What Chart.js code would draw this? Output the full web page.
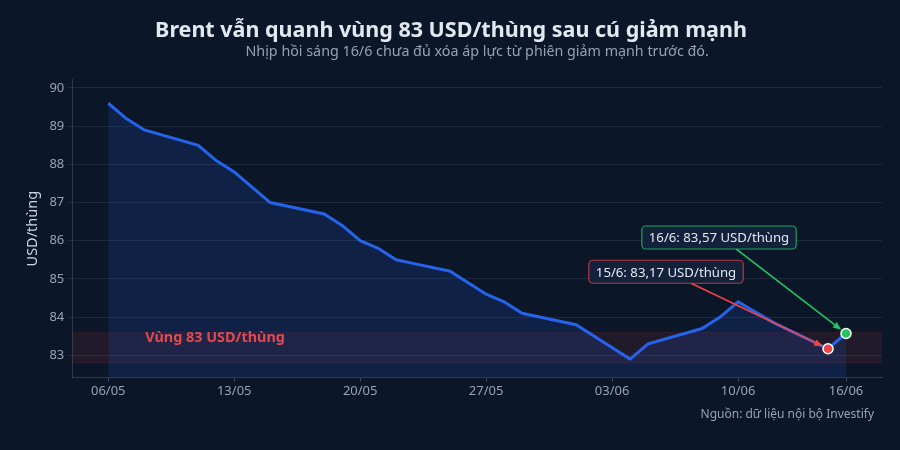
<!DOCTYPE html>
<html>
<head>
<meta charset="utf-8">
<script src="https://cdn.jsdelivr.net/npm/chart.js@4.4.1/dist/chart.umd.min.js"></script>
<style>
  html, body { margin: 0; padding: 0; background: #0b1628; }
  #wrap { width: 900px; height: 450px; }
</style>
</head>
<body>
<div id="wrap"><canvas id="brent"></canvas></div>
<script>
// days counted from 06/05
var days   = [0, 1, 2, 5, 6, 7, 9, 12, 13, 14, 15, 16, 17, 19, 20, 21, 22, 23, 26, 29, 30, 33, 34, 35, 37, 40, 41];
var prices = [89.6, 89.2, 88.9, 88.5, 88.1, 87.8, 87.0, 86.7, 86.4, 86.0, 85.8, 85.5, 85.4, 85.2, 84.9, 84.6, 84.4, 84.1, 83.8, 82.9, 83.3, 83.7, 84.0, 84.4, 83.85, 83.17, 83.57];

var xTickDays   = [0, 7, 14, 21, 28, 35, 41];
var xTickLabels = ['06/05', '13/05', '20/05', '27/05', '03/06', '10/06', '16/06'];
var yTicks      = [83, 84, 85, 86, 87, 88, 89, 90];

var zoneRange = [82.8, 83.6];
var zoneText  = 'Vùng 83 USD/thùng';

var calloutDays   = [40, 41];
var calloutLabels = ['15/6', '16/6'];

var RED = '#ef4444', GREEN = '#22c55e', BLUE = '#2563eb';

// callout looks: box centre offset and arrow start offset from the point (px)
var callouts = [
  { color: RED,   border: 'rgba(239,68,68,0.75)', dx: -162, dy: -77, ax: -137 },
  { color: GREEN, border: 'rgba(34,197,94,0.8)',  dx: -127, dy: -96, ax: -110 }
];

var points = days.map(function (d, i) { return { x: d, y: prices[i] }; });
var radii = days.map(function (d) { return calloutDays.indexOf(d) >= 0 ? 5 : 0; });
var dotColors = days.map(function (d) {
  var k = calloutDays.indexOf(d);
  return k >= 0 ? callouts[k].color : BLUE;
});

function fmt(v) { return v.toFixed(2).replace('.', ','); }

var extras = {
  id: 'extras',
  beforeDatasetsDraw: function (chart) {
    var ctx = chart.ctx, a = chart.chartArea, y = chart.scales.y;
    var top = y.getPixelForValue(zoneRange[1]), bot = y.getPixelForValue(zoneRange[0]);
    ctx.save();
    ctx.fillStyle = 'rgba(239,68,68,0.09)';
    ctx.fillRect(a.left, top, a.right - a.left, bot - top);
    ctx.strokeStyle = 'rgba(239,68,68,0.12)';
    ctx.lineWidth = 1;
    ctx.beginPath();
    ctx.moveTo(a.left, top); ctx.lineTo(a.right, top);
    ctx.moveTo(a.left, bot); ctx.lineTo(a.right, bot);
    ctx.stroke();
    ctx.restore();
  },
  afterDatasetsDraw: function (chart) {
    var ctx = chart.ctx, x = chart.scales.x, y = chart.scales.y;
    var top = y.getPixelForValue(zoneRange[1]);
    ctx.save();
    // zone label
    ctx.font = 'bold 14.4px "Noto Sans"';
    ctx.fillStyle = '#e5484d';
    ctx.textAlign = 'left';
    ctx.textBaseline = 'middle';
    ctx.fillText(zoneText, x.getPixelForValue(2) + 1, top + 6);

    // callouts
    ctx.font = '13.2px "Noto Sans"';
    calloutDays.forEach(function (d, k) {
      var c = callouts[k];
      var v = prices[days.indexOf(d)];
      var px = x.getPixelForValue(d), py = y.getPixelForValue(v);
      var txt = calloutLabels[k] + ': ' + fmt(v) + ' USD/thùng';
      var w = ctx.measureText(txt).width + 14, h = 23;
      var cx = px + c.dx, cy = py + c.dy;
      var bx = cx - w / 2, by = cy - h / 2;

      // arrow
      var sx = px + c.ax, sy = by + h;
      var ang = Math.atan2(py - sy, px - sx);
      var ex = px - Math.cos(ang) * 6, ey = py - Math.sin(ang) * 6;
      ctx.strokeStyle = c.color;
      ctx.fillStyle = c.color;
      ctx.lineWidth = 1.6;
      ctx.beginPath();
      ctx.moveTo(sx, sy);
      ctx.lineTo(ex - Math.cos(ang) * 6, ey - Math.sin(ang) * 6);
      ctx.stroke();
      ctx.beginPath();
      ctx.moveTo(ex, ey);
      ctx.lineTo(ex - Math.cos(ang - 0.4) * 9, ey - Math.sin(ang - 0.4) * 9);
      ctx.lineTo(ex - Math.cos(ang + 0.4) * 9, ey - Math.sin(ang + 0.4) * 9);
      ctx.closePath();
      ctx.fill();

      // box
      ctx.beginPath();
      ctx.roundRect(bx, by, w, h, 4);
      ctx.fillStyle = '#13213a';
      ctx.fill();
      ctx.strokeStyle = c.border;
      ctx.lineWidth = 1.2;
      ctx.stroke();
      ctx.fillStyle = '#e2e8f0';
      ctx.textAlign = 'center';
      ctx.textBaseline = 'middle';
      ctx.fillText(txt, cx, cy + 1);
    });
    ctx.restore();
  },
  afterDraw: function (chart) {
    var ctx = chart.ctx;
    ctx.save();
    ctx.font = '12px "Noto Sans"';
    ctx.fillStyle = '#94a3b8';
    ctx.textAlign = 'right';
    ctx.textBaseline = 'middle';
    ctx.fillText('Nguồn: dữ liệu nội bộ Investify', chart.width - 26, 415);
    ctx.restore();
  }
};

Chart.defaults.font.family = '"Noto Sans", sans-serif';
Chart.defaults.color = '#94a3b8';

new Chart(document.getElementById('brent'), {
  type: 'line',
  data: {
    datasets: [{
      data: points,
      borderColor: BLUE,
      borderWidth: 3,
      backgroundColor: 'rgba(37,99,235,0.15)',
      fill: 'start',
      tension: 0,
      pointRadius: radii,
      pointHoverRadius: radii,
      pointBackgroundColor: dotColors,
      pointBorderColor: '#ffffff',
      pointBorderWidth: 1.5
    }]
  },
  options: {
    responsive: true,
    maintainAspectRatio: false,
    animation: false,
    layout: { padding: { left: 20, right: 18, bottom: 49 } },
    plugins: {
      legend: { display: false },
      tooltip: { enabled: false },
      title: {
        display: true,
        text: 'Brent vẫn quanh vùng 83 USD/thùng sau cú giảm mạnh',
        color: '#e2e8f0',
        font: { size: 21.5, weight: 'bold' },
        padding: { top: 18, bottom: 0 }
      },
      subtitle: {
        display: true,
        fullSize: false,
        text: 'Nhịp hồi sáng 16/6 chưa đủ xóa áp lực từ phiên giảm mạnh trước đó.',
        color: '#94a3b8',
        font: { size: 14.3 },
        padding: { top: 0, bottom: 19 }
      }
    },
    scales: {
      x: {
        type: 'linear',
        min: -2,
        max: 43,
        afterBuildTicks: function (s) {
          s.ticks = xTickDays.map(function (v) { return { value: v }; });
        },
        ticks: {
          color: '#94a3b8',
          font: { size: 13 },
          padding: 2,
          callback: function (v) { return xTickLabels[xTickDays.indexOf(v)]; }
        },
        grid: { drawOnChartArea: false, color: 'rgba(148,163,184,0.35)', tickLength: 4 },
        border: { color: 'rgba(148,163,184,0.25)' }
      },
      y: {
        min: 82.42,
        max: 90.21,
        afterBuildTicks: function (s) {
          s.ticks = yTicks.map(function (v) { return { value: v }; });
        },
        ticks: { color: '#94a3b8', font: { size: 13 }, padding: 3 },
        grid: { color: 'rgba(148,163,184,0.14)', tickLength: 5 },
        border: { color: 'rgba(148,163,184,0.25)' },
        title: {
          display: true,
          text: 'USD/thùng',
          color: '#cbd5e1',
          font: { size: 14.5 },
          padding: { top: 4, bottom: 5 }
        }
      }
    }
  },
  plugins: [extras]
});
</script>
</body>
</html>
